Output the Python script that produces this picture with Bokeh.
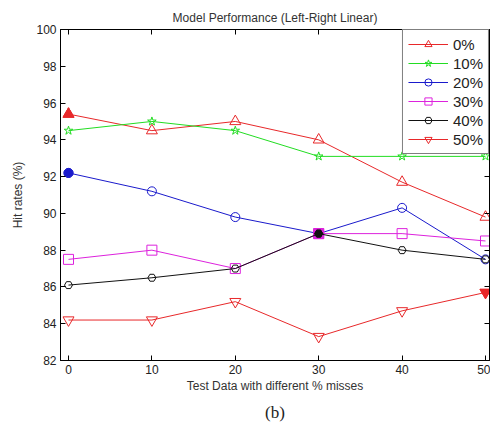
from bokeh.plotting import figure
from bokeh.models import LinearAxis, Legend, LegendItem, Title, FixedTicker, Range1d
from bokeh.embed import file_html
from bokeh.resources import INLINE

x_vals = [0, 10, 20, 30, 40, 50]
series_names = ["0%", "10%", "20%", "30%", "40%", "50%"]
s0 = [95.4, 94.5, 95.0, 94.0, 91.7, 89.8]
s10 = [94.5, 95.0, 94.5, 93.1, 93.1, 93.1]
s20 = [92.2, 91.2, 89.8, 88.9, 90.3, 87.5]
s30 = [87.5, 88.0, 87.0, 88.9, 88.9, 88.5]
s40 = [86.1, 86.5, 87.0, 88.9, 88.0, 87.5]
s50 = [84.2, 84.2, 85.2, 83.3, 84.7, 85.7]
highlight_idx = [0, None, 0, 3, 3, 5]
x_ticks = [0, 10, 20, 30, 40, 50]
y_ticks = [82, 84, 86, 88, 90, 92, 94, 96, 98, 100]

colors = ["#e8282a", "#22dd22", "#1a1acc", "#dd22dd", "#111111", "#e8282a"]
markers = ["triangle", "star", "circle", "square", "hex", "inverted_triangle"]
sizes = [11, 9, 9, 10, 8, 11]
data = [s0, s10, s20, s30, s40, s50]

FONT = "Liberation Sans"

p = figure(width=490, height=426, output_backend="svg", toolbar_location=None,
           x_range=Range1d(-0.96, 50.48), y_range=Range1d(82, 100),
           min_border_left=60, min_border_right=1, min_border_top=29, min_border_bottom=10)
p.background_fill_color = "white"
p.border_fill_color = "white"
p.outline_line_color = "black"
p.grid.visible = False

p.title.text = "Model Performance (Left-Right Linear)"
p.title.align = "center"
p.title.text_font = FONT
p.title.text_font_size = "12px"
p.title.text_font_style = "normal"
p.title.text_color = "#333333"

for ax in [p.xaxis[0], p.yaxis[0]]:
    ax.major_tick_in = 5
    ax.major_tick_out = 0
    ax.minor_tick_in = 0
    ax.minor_tick_out = 0
    ax.major_label_text_font = FONT
    ax.major_label_text_font_size = "12px"
    ax.major_label_text_color = "#222222"
    ax.axis_label_text_font = FONT
    ax.axis_label_text_font_size = "12px"
    ax.axis_label_text_font_style = "normal"
    ax.axis_label_text_color = "#333333"
    ax.axis_line_color = "black"
p.xaxis.ticker = FixedTicker(ticks=x_ticks)
p.yaxis.ticker = FixedTicker(ticks=y_ticks)
p.xaxis.axis_label = "Test Data with different % misses"
p.yaxis.axis_label = "Hit rates (%)"
p.xaxis.major_label_standoff = 4
p.yaxis.major_label_standoff = 4
p.xaxis.axis_label_standoff = 2
p.yaxis.axis_label_standoff = 8

top = LinearAxis(ticker=FixedTicker(ticks=x_ticks), major_tick_in=5, major_tick_out=0,
                 minor_tick_in=0, minor_tick_out=0,
                 major_label_overrides={t: "" for t in x_ticks}, major_label_standoff=0)
right = LinearAxis(ticker=FixedTicker(ticks=y_ticks), major_tick_in=5, major_tick_out=0,
                   minor_tick_in=0, minor_tick_out=0,
                   major_label_overrides={t: "" for t in y_ticks}, major_label_standoff=0)
p.add_layout(top, "above")
p.add_layout(right, "right")

items = []
for name, ys, c, m, s, hi in zip(series_names, data, colors, markers, sizes, highlight_idx):
    ln = p.line(x_vals, ys, line_color=c, line_width=1)
    sc = p.scatter(x_vals, ys, marker=m, size=s, line_color=c, fill_color=None, line_width=1)
    if hi is not None:
        p.scatter([x_vals[hi]], [ys[hi]], marker=m, size=s, line_color=c, fill_color=c)
    items.append(LegendItem(label=name, renderers=[ln, sc]))

legend = Legend(items=items, location="top_right")
legend.border_line_color = "black"
legend.border_line_width = 1
legend.background_fill_alpha = 1
legend.label_text_font = FONT
legend.label_text_font_size = "15px"
legend.label_text_color = "#222222"
legend.glyph_width = 40
legend.glyph_height = 18
legend.label_height = 18
legend.spacing = 1
legend.padding = 5
legend.margin = 0
legend.label_standoff = 5
p.add_layout(legend)

sub = Title(text="(b)", align="center", text_font="Liberation Serif", text_font_size="17px",
            text_font_style="normal", text_color="#222222")
p.add_layout(sub, "below")

open("out.html", "w").write(file_html(p, INLINE))
